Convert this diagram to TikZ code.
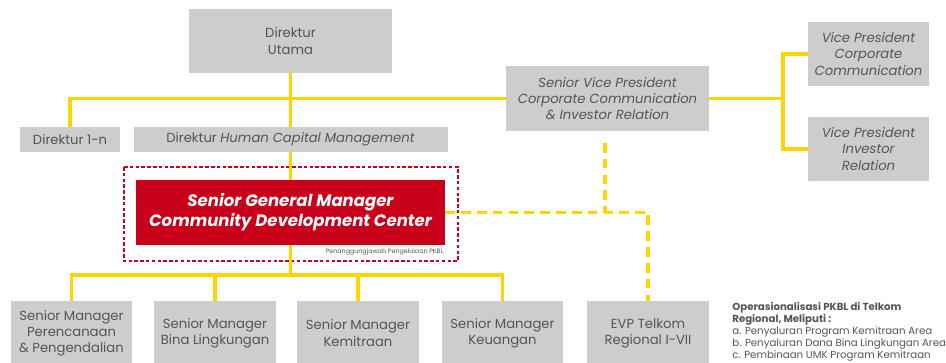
\documentclass[tikz,border=0pt]{standalone}
\usepackage{fontspec}
\setmainfont{Poppins}
\usetikzlibrary{positioning}
\definecolor{boxgray}{HTML}{CBCECB}
\definecolor{lineyellow}{HTML}{FFD500}
\definecolor{cdcred}{HTML}{C8001A}
\definecolor{textgray}{HTML}{555555}

\begin{document}
\begin{tikzpicture}[x=1cm,y=1cm,font=\fontsize{7.5}{9.2}\selectfont,
  unit/.style={fill=boxgray,text=textgray,align=center,inner sep=0pt},
  link/.style={draw=lineyellow,line width=1.9pt},
  dotlink/.style={link,dash pattern=on 5.5pt off 3.5pt}]
\useasboundingbox (0,0) rectangle (18.92,-7.24);
\clip (0,0) rectangle (18.92,-7.24);

% board and staff
\node[unit,minimum width=4.06cm,minimum height=1.28cm] (utama) at (5.81,-.82) {Direktur\\Utama};
\node[unit,minimum width=2cm,minimum height=.5cm] (dir1n) at (1.40,-2.79) {Direktur 1-n};
\node[unit,minimum width=6.28cm,minimum height=.5cm] (hcm) at (5.81,-2.79) {Direktur \textit{Human Capital Management}};
\node[unit,minimum width=4.06cm,minimum height=1.30cm,font=\fontsize{7.5}{9.2}\itshape] (svp) at (12.15,-1.97) {Senior Vice President\\Corporate Communication\\\& Investor Relation};
\node[unit,minimum width=2.42cm,minimum height=1.28cm,font=\fontsize{7.5}{9.2}\itshape] (vpcc) at (17.37,-1.08) {Vice President\\Corporate\\Communication};
\node[unit,minimum width=2.42cm,minimum height=1.28cm,font=\fontsize{7.5}{9.2}\itshape] (vpir) at (17.37,-2.98) {Vice President\\Investor\\Relation};

% community development center
\draw[cdcred,line width=1.1pt,dash pattern=on 2pt off 1.3pt] (2.48,-3.34) rectangle (9.16,-5.22);
\node[fill=cdcred,text=white,align=center,inner sep=0pt,minimum width=6.18cm,minimum height=1.30cm,
  font=\fontsize{9.4}{11.4}\bfseries\itshape] (sgm) at (5.81,-4.25) {Senior General Manager\\Community Development Center};
\node[anchor=east,inner sep=0pt,text=textgray,font=\fontsize{3.6}{4}\selectfont] (pj) at (8.90,-5.04) {Penanggungjawab Pengelolaan PKBL.};

\node[unit,minimum width=2.42cm,minimum height=1.28cm] (perenc) at (1.43,-6.66) {Senior Manager\\Perencanaan\\\& Pengendalian};
\node[unit,minimum width=2.44cm,minimum height=1.28cm] (bina) at (4.30,-6.66) {Senior Manager\\Bina Lingkungan};
\node[unit,minimum width=2.44cm,minimum height=1.28cm] (kemit) at (7.16,-6.66) {Senior Manager\\Kemitraan};
\node[unit,minimum width=2.42cm,minimum height=1.28cm] (keu) at (10.05,-6.66) {Senior Manager\\Keuangan};
\node[unit,minimum width=2.44cm,minimum height=1.28cm] (evp) at (12.96,-6.66) {EVP Telkom\\Regional I-VII};

\node[anchor=north west,align=left,inner sep=0pt,text=textgray,font=\fontsize{5.8}{6.9}\selectfont] (ops) at (14.64,-6.03)
  {\textbf{Operasionalisasi PKBL di Telkom}\\\textbf{Regional, Meliputi :}\\a. Penyaluran Program Kemitraan Area\\b. Penyaluran Dana Bina Lingkungan Area\\c. Pembinaan UMK Program Kemitraan};

% solid lines
\coordinate (lowbus) at (5.81,-5.50);
\coordinate (fork) at (15.66,-1.97);
\coordinate (svpdrop) at (12.10,-2.86);
\draw[link] (utama) -- (hcm);
\draw[link] (dir1n.north) |- (svp.west);
\draw[link] (hcm) -- (sgm);
\draw[link] (sgm) -- (lowbus);
\foreach \n in {perenc,bina,kemit,keu}
  \draw[link] (lowbus) -| (\n.north);
\draw[link] (svp.east) -- (fork);
\draw[link] (vpcc.west) -| (fork) |- (vpir.west);

% dashed lines
\draw[dotlink] (sgm.east) -| (evp.north);
\draw[dotlink] (svpdrop) -- (svpdrop |- sgm.east);
\end{tikzpicture}
\end{document}
